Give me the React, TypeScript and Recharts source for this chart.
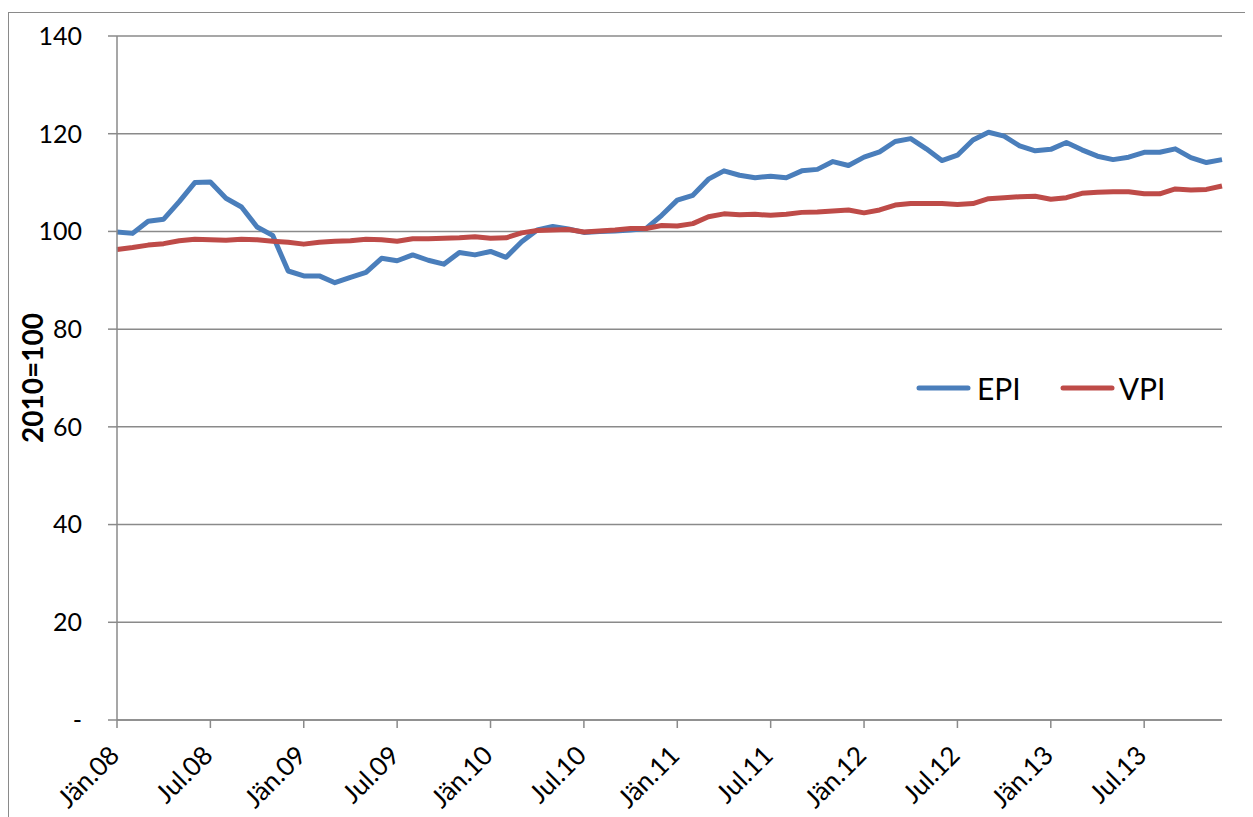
import React from 'react';
import { LineChart, Line, XAxis, YAxis, CartesianGrid, Legend } from 'recharts';

const years = ['08', '09', '10', '11', '12', '13'];
const monthNames = ['Jän', 'Feb', 'Mär', 'Apr', 'Mai', 'Jun', 'Jul', 'Aug', 'Sep', 'Okt', 'Nov', 'Dez'];
const categories: string[] = [];
years.forEach((y) => monthNames.forEach((m) => categories.push(`${m}.${y}`)));

const epi = [
  99.9, 99.6, 102.1, 102.5, 106.1, 110.0, 110.1, 106.8, 105.0, 100.9, 99.2, 91.9,
  90.9, 90.9, 89.5, 90.6, 91.6, 94.5, 94.0, 95.2, 94.1, 93.3, 95.7, 95.2,
  95.9, 94.7, 97.9, 100.3, 101.0, 100.5, 99.8, 100.0, 100.1, 100.3, 100.6, 103.3,
  106.4, 107.4, 110.7, 112.4, 111.5, 111.0, 111.3, 111.0, 112.4, 112.7, 114.3, 113.5,
  115.2, 116.3, 118.4, 119.0, 116.9, 114.5, 115.6, 118.7, 120.3, 119.5, 117.5, 116.5,
  116.8, 118.2, 116.7, 115.4, 114.7, 115.2, 116.2, 116.2, 116.9, 115.1, 114.1, 114.7,
];

const vpi = [
  96.3, 96.7, 97.2, 97.5, 98.1, 98.4, 98.3, 98.2, 98.4, 98.3, 98.0, 97.8,
  97.4, 97.8, 98.0, 98.1, 98.4, 98.3, 98.0, 98.5, 98.5, 98.6, 98.7, 98.9,
  98.6, 98.7, 99.7, 100.2, 100.3, 100.4, 99.9, 100.1, 100.3, 100.6, 100.6, 101.2,
  101.1, 101.6, 103.0, 103.6, 103.4, 103.5, 103.3, 103.5, 103.9, 104.0, 104.2, 104.4,
  103.8, 104.4, 105.4, 105.7, 105.7, 105.7, 105.5, 105.7, 106.7, 106.9, 107.1, 107.2,
  106.6, 106.9, 107.8, 108.0, 108.1, 108.1, 107.7, 107.7, 108.7, 108.5, 108.6, 109.3,
];

const yTicks = [0, 20, 40, 60, 80, 100, 120, 140];

const data = categories.map((c, i) => ({ month: c, EPI: epi[i], VPI: vpi[i] }));

const FONT = 'Lato, "Open Sans", sans-serif';
const GRID = '#8a8a8a';
const BLUE = '#4A7EBB';
const RED = '#BE4B48';

const XTick = (props: any) => {
  const { x, y, payload } = props;
  return (
    <g transform={`translate(${x},${y})`}>
      <text
        x={0}
        y={0}
        transform="translate(4,27) rotate(-45)"
        textAnchor="end"
        fontSize={26}
        fontFamily={FONT}
        fill="#000"
      >
        {payload.value}
      </text>
    </g>
  );
};

const YLabel = (props: any) => {
  const vb = props.viewBox || { x: 0, y: 0, width: 0, height: 0 };
  const cx = vb.x + 35;
  const cy = vb.y + vb.height / 2;
  return (
    <text
      x={cx}
      y={cy}
      transform={`rotate(-90 ${cx} ${cy})`}
      textAnchor="middle"
      fontSize={28}
      fontWeight="bold"
      fontFamily={FONT}
      fill="#000"
    >
      2010=100
    </text>
  );
};

const renderLegend = (props: any) => {
  const { payload } = props;
  return (
    <div style={{ display: 'flex', alignItems: 'center', height: 36, fontFamily: FONT }}>
      {(payload || []).map((entry: any, idx: number) => (
        <div key={idx} style={{ display: 'flex', alignItems: 'center', marginRight: idx === 0 ? 39 : 0 }}>
          <svg width={55} height={10} style={{ display: 'block' }}>
            <line x1={3} y1={5} x2={52} y2={5} stroke={entry.color} strokeWidth={5} strokeLinecap="round" />
          </svg>
          <span style={{ fontSize: 30, lineHeight: '36px', color: '#000', marginLeft: idx === 0 ? 6 : 4 }}>
            {entry.value}
          </span>
        </div>
      ))}
    </div>
  );
};

export default function App() {
  return (
    <div style={{ position: 'relative', width: 1245, height: 809, overflow: 'hidden', fontFamily: FONT, background: '#fff' }}>
      <div
        style={{
          position: 'absolute',
          left: 0,
          top: 4,
          width: 1400,
          height: 1000,
          border: '1px solid #8a8a8a',
          boxSizing: 'border-box',
        }}
      />
      <div style={{ position: 'absolute', left: 0, top: 0 }}>
        <LineChart width={1245} height={809} data={data} margin={{ top: 28, right: 31, left: 0, bottom: 0 }}>
          <CartesianGrid vertical={false} stroke={GRID} strokeWidth={1.5} />
          <XAxis
            dataKey="month"
            interval={5}
            height={97}
            tick={<XTick />}
            tickSize={8}
            axisLine={{ stroke: GRID, strokeWidth: 1.5 }}
            tickLine={{ stroke: GRID, strokeWidth: 1.5 }}
          />
          <YAxis
            domain={[0, 140]}
            ticks={yTicks}
            width={109}
            tickSize={9}
            tickMargin={26}
            tickFormatter={(v: number) => (v === 0 ? '-' : String(v))}
            tick={{ fontSize: 25, fill: '#000', fontFamily: FONT }}
            axisLine={{ stroke: GRID, strokeWidth: 1.5 }}
            tickLine={{ stroke: GRID, strokeWidth: 1.5 }}
            label={<YLabel />}
          />
          <Legend
            layout="horizontal"
            verticalAlign="middle"
            align="center"
            content={renderLegend}
            wrapperStyle={{ position: 'absolute', left: 908, top: 362, width: 320, height: 36 }}
          />
          <Line type="linear" dataKey="EPI" stroke={BLUE} strokeWidth={5} dot={false} strokeLinejoin="round" isAnimationActive={false} />
          <Line type="linear" dataKey="VPI" stroke={RED} strokeWidth={5} dot={false} strokeLinejoin="round" isAnimationActive={false} />
        </LineChart>
      </div>
    </div>
  );
}
